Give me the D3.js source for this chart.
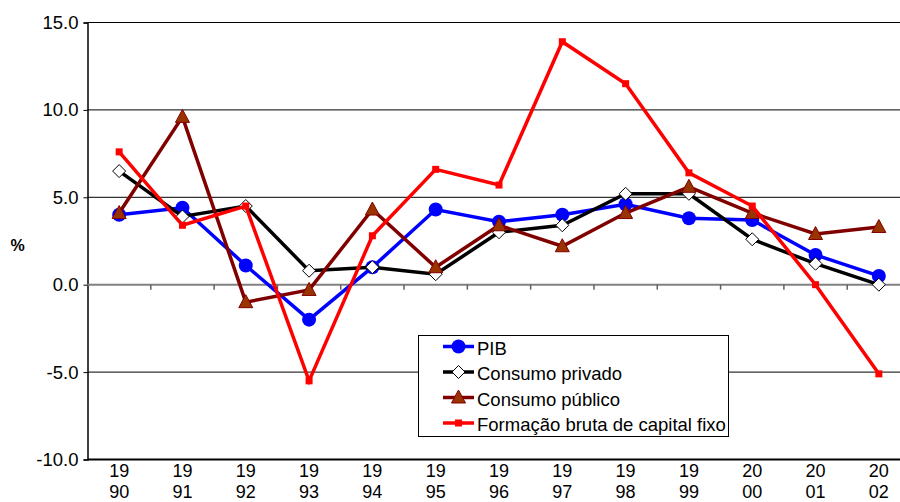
<!DOCTYPE html>
<html>
<head>
<meta charset="utf-8">
<script src="https://cdn.jsdelivr.net/npm/d3@7/dist/d3.min.js"></script>
<style>
  body { margin: 0; background: #fff; }
  svg text { font-family: "Liberation Sans", Arial, sans-serif; fill: #000; }
</style>
</head>
<body>
<div id="chart"></div>
<script>
const years = ['1990', '1991', '1992', '1993', '1994', '1995', '1996',
               '1997', '1998', '1999', '2000', '2001', '2002'];
const yTicks = [-10, -5, 0, 5, 10, 15];

const pib = [4.0, 4.4, 1.1, -2.0, 1.0, 4.3, 3.6, 4.0, 4.6, 3.8, 3.7, 1.7, 0.5];
const consumoPrivado = [6.5, 3.9, 4.5, 0.8, 1.0, 0.6, 3.0, 3.4, 5.2, 5.2, 2.6, 1.2, 0.0];
const consumoPublico = [4.1, 9.6, -1.0, -0.3, 4.3, 1.0, 3.4, 2.2, 4.1, 5.6, 4.1, 2.9, 3.3];
const fbcf = [7.6, 3.4, 4.5, -5.5, 2.8, 6.6, 5.7, 13.9, 11.5, 6.4, 4.5, 0.0, -5.1];

const seriesNames = ['PIB', 'Consumo privado', 'Consumo público',
                     'Formação bruta de capital fixo'];

const width = 900;
const height = 502;
const margin = {left: 87.5, right: -10.5, top: 22.5, bottom: 42.5};
const fontSize = 18.5;

var svg = d3.select('#chart').append('svg')
  .attr('width', width)
  .attr('height', height);

var x = d3.scaleBand()
  .domain(years)
  .range([margin.left, width - margin.right]);

var y = d3.scaleLinear()
  .domain([-10, 15])
  .range([height - margin.bottom, margin.top]);

// horizontal grid lines
svg.append('g').selectAll('line')
  .data(yTicks.filter(d => d !== 0 && d !== -10))
  .join('line')
  .attr('x1', margin.left)
  .attr('x2', width)
  .attr('y1', d => y(d))
  .attr('y2', d => y(d))
  .attr('stroke', '#000')
  .attr('stroke-width', 1);

// bottom frame
svg.append('line')
  .attr('x1', margin.left).attr('x2', width)
  .attr('y1', y(-10)).attr('y2', y(-10))
  .attr('stroke', '#000').attr('stroke-width', 2);

// y axis
var yAxis = svg.append('g')
  .attr('transform', 'translate(' + margin.left + ',0)')
  .call(d3.axisLeft(y).tickValues(yTicks).tickSize(4).tickPadding(5)
    .tickFormat(d => d.toFixed(1)));
yAxis.select('.domain').attr('stroke', '#000').attr('stroke-width', 1.5);
yAxis.selectAll('.tick line').attr('stroke', '#000');
yAxis.selectAll('text')
  .style('font-size', fontSize + 'px')
  .style('font-family', '"Liberation Sans", Arial, sans-serif');

// zero axis with category ticks at boundaries
svg.append('line')
  .attr('x1', margin.left).attr('x2', width)
  .attr('y1', y(0)).attr('y2', y(0))
  .attr('stroke', '#808080').attr('stroke-width', 2);

svg.append('g').selectAll('line')
  .data(years.slice(1))
  .join('line')
  .attr('x1', d => x(d))
  .attr('x2', d => x(d))
  .attr('y1', y(0))
  .attr('y2', y(0) + 5)
  .attr('stroke', '#606060')
  .attr('stroke-width', 1.5);

// category labels (two lines)
var xl = svg.append('g').selectAll('text')
  .data(years)
  .join('text')
  .attr('x', d => x(d) + x.bandwidth() / 2)
  .attr('y', 477)
  .attr('text-anchor', 'middle')
  .style('font-size', '18px');
xl.append('tspan').text(d => d.slice(0, 2));
xl.append('tspan')
  .attr('x', d => x(d) + x.bandwidth() / 2)
  .attr('dy', 20.5)
  .text(d => d.slice(2));

svg.append('text')
  .attr('x', 17.5)
  .attr('y', 251)
  .attr('text-anchor', 'middle')
  .style('font-size', '16px')
  .style('font-weight', 'bold')
  .text('%');

var line = d3.line()
  .x((d, i) => x(years[i]) + x.bandwidth() / 2)
  .y(d => y(d));

var series = [
  {name: seriesNames[0], values: pib, color: '#0000ff', marker: 'circle'},
  {name: seriesNames[1], values: consumoPrivado, color: '#000000', marker: 'diamond'},
  {name: seriesNames[2], values: consumoPublico, color: '#800000', marker: 'triangle'},
  {name: seriesNames[3], values: fbcf, color: '#ff0000', marker: 'square'}
];

function drawMarker(g, type, cx, cy) {
  if (type === 'circle') {
    g.append('circle').attr('cx', cx).attr('cy', cy).attr('r', 7)
      .attr('fill', '#0000ff');
  } else if (type === 'diamond') {
    g.append('path')
      .attr('d', 'M' + cx + ',' + (cy - 6.5) + 'L' + (cx + 6.5) + ',' + cy +
        'L' + cx + ',' + (cy + 6.5) + 'L' + (cx - 6.5) + ',' + cy + 'Z')
      .attr('fill', '#fff').attr('stroke', '#000').attr('stroke-width', 1);
  } else if (type === 'triangle') {
    g.append('path')
      .attr('d', 'M' + cx + ',' + (cy - 7.5) + 'L' + (cx + 7) + ',' + (cy + 5.5) +
        'L' + (cx - 7) + ',' + (cy + 5.5) + 'Z')
      .attr('fill', '#993300').attr('stroke', '#800000').attr('stroke-width', 1);
  } else {
    g.append('rect').attr('x', cx - 3.5).attr('y', cy - 3.5)
      .attr('width', 7).attr('height', 7).attr('fill', '#ff0000');
  }
}

series.forEach(function(s) {
  var g = svg.append('g');
  g.append('path')
    .datum(s.values)
    .attr('d', line)
    .attr('fill', 'none')
    .attr('stroke', s.color)
    .attr('stroke-width', 3.5)
    .attr('stroke-linejoin', 'miter');
  s.values.forEach(function(v, i) {
    drawMarker(g, s.marker, x(years[i]) + x.bandwidth() / 2, y(v));
  });
});

// legend
var legend = svg.append('g');
legend.append('rect')
  .attr('x', 418.5).attr('y', 335.5)
  .attr('width', 310).attr('height', 101)
  .attr('fill', '#fff')
  .attr('stroke', '#000')
  .attr('stroke-width', 1);

series.forEach(function(s, i) {
  var ly = 346.5 + i * 25.5;
  legend.append('line')
    .attr('x1', 443).attr('x2', 474)
    .attr('y1', ly).attr('y2', ly)
    .attr('stroke', s.color).attr('stroke-width', 3.5);
  drawMarker(legend, s.marker, 458.5, ly);
  legend.append('text')
    .attr('x', 477)
    .attr('y', ly + 8)
    .style('font-size', fontSize + 'px')
    .text(s.name);
});
</script>
</body>
</html>
